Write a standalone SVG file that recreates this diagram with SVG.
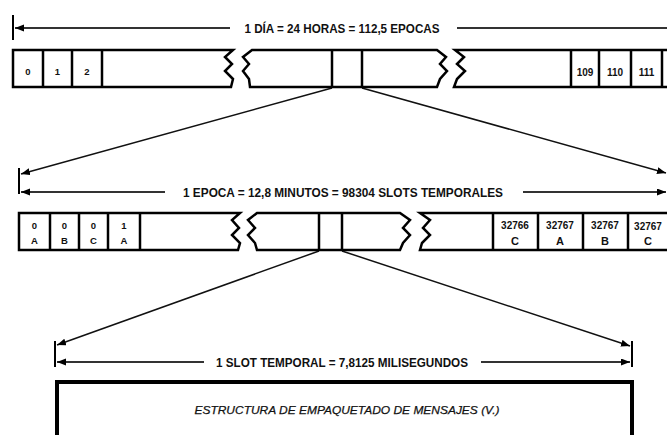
<svg xmlns="http://www.w3.org/2000/svg" width="667" height="435" viewBox="0 0 667 435">
<defs>
<marker id="ah" markerUnits="userSpaceOnUse" markerWidth="10" markerHeight="8" refX="9" refY="3.5" orient="auto">
<path d="M0,0 L9,3.5 L0,7 Z" fill="#000"/>
</marker>
<style>
.frag{fill:#fff;stroke:#000;stroke-width:2.5;stroke-linejoin:miter}
.div{stroke:#000;stroke-width:2.5}
.dim{stroke:#333;stroke-width:2;fill:none}
.tick{stroke:#000;stroke-width:2}
.diag{stroke:#111;stroke-width:1.5;fill:none}
.lbl{font-family:"Liberation Sans",Arial,sans-serif;font-weight:bold;font-size:12.5px;fill:#111;text-anchor:middle}
.cell{font-family:"Liberation Sans",Arial,sans-serif;font-weight:bold;font-size:9.5px;fill:#111;text-anchor:middle}
.cell2{font-family:"Liberation Sans",Arial,sans-serif;font-weight:bold;font-size:10px;fill:#111;text-anchor:middle}
.let{font-family:"Liberation Sans",Arial,sans-serif;font-weight:bold;font-size:11px;fill:#111;text-anchor:middle}
.ital{font-family:"Liberation Sans",Arial,sans-serif;font-style:italic;font-size:11.5px;fill:#111;text-anchor:middle;stroke:#111;stroke-width:0.25}
</style>
</defs>

<g id="connectors">
<!-- dimension 1 -->
<line class="tick" x1="13" y1="15" x2="13" y2="40"/>
<line class="dim" x1="230" y1="28" x2="15" y2="28" marker-end="url(#ah)"/>
<line class="dim" x1="457" y1="28" x2="667" y2="28"/>
<!-- dimension 2 -->
<line class="tick" x1="19" y1="168" x2="19" y2="194"/>
<line class="dim" x1="165" y1="192" x2="21" y2="192" marker-end="url(#ah)"/>
<line class="dim" x1="523" y1="192" x2="666" y2="192" marker-end="url(#ah)"/>
<!-- dimension 3 -->
<line class="tick" x1="55" y1="341" x2="55" y2="367"/>
<line class="tick" x1="632" y1="341" x2="632" y2="367"/>
<line class="dim" x1="204" y1="362" x2="57" y2="362" marker-end="url(#ah)"/>
<line class="dim" x1="481" y1="362" x2="630" y2="362" marker-end="url(#ah)"/>
<!-- zoom diagonals -->
<line class="diag" x1="332" y1="88" x2="21" y2="174" marker-end="url(#ah)"/>
<line class="diag" x1="362" y1="88" x2="666" y2="173" marker-end="url(#ah)"/>
<line class="diag" x1="319" y1="251" x2="57" y2="345" marker-end="url(#ah)"/>
<line class="diag" x1="342" y1="251" x2="630" y2="346" marker-end="url(#ah)"/>
</g>

<g id="label-dia">
<text class="lbl" x="342" y="32.5" textLength="195" lengthAdjust="spacingAndGlyphs">1 DÍA = 24 HORAS = 112,5 EPOCAS</text>
</g>
<g id="label-epoca">
<text class="lbl" x="343" y="196.5" textLength="320" lengthAdjust="spacingAndGlyphs">1 EPOCA = 12,8 MINUTOS  = 98304 SLOTS TEMPORALES</text>
</g>
<g id="label-slot">
<text class="lbl" x="342" y="366.5" textLength="252" lengthAdjust="spacingAndGlyphs">1 SLOT TEMPORAL = 7,8125 MILISEGUNDOS</text>
</g>

<g id="day-bar">
<path class="frag" d="M233,50 H13 V87 H231 L233,79 L225,71 L232,64 L225,57 Z"/>
<path class="frag" d="M252,50 H437 L446,57 L440,64 L447,71 L440,79 L437,87 H250 L249,79 L243,71 L249,64 L243,57 Z"/>
<path class="frag" d="M455,50 H672 V87 H454 L457,79 L465,71 L457,64 L464,57 Z"/>
<line class="div" x1="43" y1="50" x2="43" y2="87"/>
<line class="div" x1="72" y1="50" x2="72" y2="87"/>
<line class="div" x1="102" y1="50" x2="102" y2="87"/>
<line class="div" x1="332" y1="50" x2="332" y2="87"/>
<line class="div" x1="362" y1="50" x2="362" y2="87"/>
<line class="div" x1="571" y1="50" x2="571" y2="87"/>
<line class="div" x1="599" y1="50" x2="599" y2="87"/>
<line class="div" x1="631" y1="50" x2="631" y2="87"/>
<line class="div" x1="662" y1="50" x2="662" y2="87"/>
<text class="cell" x="28" y="75">0</text>
<text class="cell" x="57.5" y="75">1</text>
<text class="cell" x="87" y="75">2</text>
<text class="cell2" x="585" y="76">109</text>
<text class="cell2" x="615" y="76">110</text>
<text class="cell2" x="646.5" y="76">111</text>
</g>

<g id="epoch-bar">
<path class="frag" d="M240,213 H19 V250 H238 L240,243 L232,235 L239,228 L232,220 Z"/>
<path class="frag" d="M257,213 H400 L410,220 L403,228 L410,235 L403,243 L400,250 H257 L255,243 L248,235 L255,228 L248,220 Z"/>
<path class="frag" d="M420,213 H672 V250 H420 L422,243 L430,235 L423,228 L430,220 Z"/>
<line class="div" x1="50" y1="213" x2="50" y2="250"/>
<line class="div" x1="79" y1="213" x2="79" y2="250"/>
<line class="div" x1="108" y1="213" x2="108" y2="250"/>
<line class="div" x1="140" y1="213" x2="140" y2="250"/>
<line class="div" x1="319" y1="213" x2="319" y2="250"/>
<line class="div" x1="342" y1="213" x2="342" y2="250"/>
<line class="div" x1="493" y1="213" x2="493" y2="250"/>
<line class="div" x1="538" y1="213" x2="538" y2="250"/>
<line class="div" x1="583" y1="213" x2="583" y2="250"/>
<line class="div" x1="628" y1="213" x2="628" y2="250"/>
<text class="cell" x="34.5" y="229">0</text><text class="cell" x="34.5" y="244">A</text>
<text class="cell" x="64.5" y="229">0</text><text class="cell" x="64.5" y="244">B</text>
<text class="cell" x="93.5" y="229">0</text><text class="cell" x="93.5" y="244">C</text>
<text class="cell" x="124" y="229">1</text><text class="cell" x="124" y="244">A</text>
<text class="cell2" x="515" y="229">32766</text><text class="let" x="515" y="244.5">C</text>
<text class="cell2" x="560" y="229">32767</text><text class="let" x="560" y="244.5">A</text>
<text class="cell2" x="605" y="229">32767</text><text class="let" x="605" y="244.5">B</text>
<text class="cell2" x="648" y="230">32767</text><text class="let" x="648" y="244.5">C</text>
</g>

<g id="slot-box">
<path d="M57,440 V382 H632 V440" fill="#fff" stroke="#000" stroke-width="4"/>
<text class="ital" x="347" y="414" textLength="305" lengthAdjust="spacingAndGlyphs">ESTRUCTURA DE EMPAQUETADO DE  MENSAJES (V.)</text>
</g>
</svg>
